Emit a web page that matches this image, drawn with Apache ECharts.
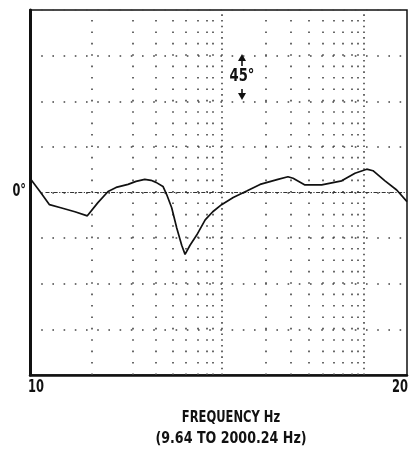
<!DOCTYPE html>
<html>
<head>
<meta charset="utf-8">
<script src="https://cdn.jsdelivr.net/npm/echarts@6/dist/echarts.min.js"></script>
<style>
  html, body { margin: 0; padding: 0; background: #fff; }
  #chart { width: 409px; height: 450px; }
</style>
</head>
<body>
<div id="chart"></div>
<script>
// Phase response, degrees vs frequency (log scale)
const freqHz = [9.64, 11.1, 12.7, 14.9, 18.2, 21.7, 25.2, 29.1, 32.6, 38.6,
  43.2, 48.9, 53.4, 57.4, 63.3, 66.7, 71.6, 76.9, 82.5, 86.5,
  92.8, 102, 115, 128, 145, 171, 207, 250, 322, 371,
  399, 472, 598, 689, 794, 958, 1131, 1236, 1465, 1729, 2000.24];
const phaseDeg = [14, 1, -12, -15, -19, -23, -10, 1, 5, 8,
  11, 13, 12, 10, 6, -2, -15, -35, -52, -61,
  -52, -42, -27, -19, -12, -5, 1.5, 8, 13, 15.5,
  14, 7.5, 7.5, 9.5, 11.5, 19, 23, 21.5, 11.5, 2.5, -9];

// Frequency range of the sweep
const freqMin = 9.64;
const freqMax = 2000.24;

// Vertical dotted grid columns (Hz); the heavy ones are denser dots
const gridCols = [23.2, 41.4, 57.4, 72.9, 87.7, 103.9, 118, 128.4,
  272, 387, 500, 609, 712, 809, 919, 1000];
const gridColsHeavy = [146, 1089];

// Phase scale
const phaseMin = -180, phaseMax = 180, phaseStep = 45;

// Text
const xEndLabels = ['10', '20'];
const zeroLabel = '0°';
const xTitle = 'FREQUENCY Hz';
const xRangeNote = '(9.64 TO 2000.24 Hz)';
const scaleNote = '45°';

const FONT = '"DejaVu Sans Condensed", "Liberation Sans Narrow", "Roboto", sans-serif';
const chart = echarts.init(document.getElementById('chart'), null, { renderer: 'canvas' });

const dotLine = { color: '#444', width: 1.6, type: [1.6, 9.8] };
const denseLine = { color: '#444', width: 1.6, type: [1.6, 4.1] };

const gridMarks = gridCols.map(f => ({ xAxis: f, lineStyle: dotLine }))
  .concat(gridColsHeavy.map(f => ({ xAxis: f, lineStyle: denseLine })));

// condensed bold label helper
function label(text, x, y, align, size, sx) {
  return {
    type: 'text', x: x, y: y, scaleX: sx,
    style: {
      text: text, font: 'bold ' + size + 'px ' + FONT, fill: '#111',
      align: align, verticalAlign: 'middle'
    }
  };
}

chart.setOption({
  animation: false,
  backgroundColor: '#fff',
  grid: {
    left: 30, right: 2, top: 10, bottom: 75,
    show: true, borderColor: '#111', borderWidth: 1.5, backgroundColor: 'transparent'
  },
  xAxis: {
    type: 'log', logBase: 10, min: freqMin, max: freqMax,
    axisLine: { show: true, onZero: false, lineStyle: { color: '#111', width: 2.5 } },
    axisTick: { show: false }, axisLabel: { show: false },
    splitLine: { show: false }, minorSplitLine: { show: false }
  },
  yAxis: {
    type: 'value', min: phaseMin, max: phaseMax, interval: phaseStep,
    axisLine: { show: true, lineStyle: { color: '#111', width: 3 } },
    axisTick: { show: false },
    axisLabel: { show: false },
    splitLine: { show: true, lineStyle: { color: '#444', width: 1.6, type: [1.6, 9.6] } }
  },
  series: [
    {
      type: 'line', data: [], silent: true,
      markLine: {
        silent: true, symbol: 'none', label: { show: false },
        data: gridMarks.concat([[
          { coord: [12, 0], lineStyle: { color: '#333', width: 1.1, type: [4, 1.5, 1.2, 1.5] } },
          { coord: [freqMax, 0] }
        ]])
      }
    },
    {
      type: 'line',
      data: freqHz.map((f, i) => [f, phaseDeg[i]]),
      showSymbol: false, symbol: 'none', smooth: false,
      lineStyle: { color: '#111', width: 1.7 },
      z: 5
    }
  ]
});

// place text once the axes are laid out
const zeroY = chart.convertToPixel({ yAxisIndex: 0 }, 0);
const leftX = chart.convertToPixel({ xAxisIndex: 0 }, freqMin);
const rightX = chart.convertToPixel({ xAxisIndex: 0 }, freqMax);

chart.setOption({
  graphic: [
    label(zeroLabel, leftX - 4, zeroY - 1, 'right', 17, 0.74),
    label(xEndLabels[0], leftX - 2, 388, 'left', 17, 0.75),
    label(xEndLabels[1], rightX + 1, 388, 'right', 17, 0.75),
    label(xTitle, 231, 418, 'center', 16, 0.8),
    label(xRangeNote, 231, 439, 'center', 16, 0.88),
    label(scaleNote, 242, 77, 'center', 17, 0.86),
    // scale arrows around the 45° note
    { type: 'line', shape: { x1: 242, y1: 59, x2: 242, y2: 66 }, style: { stroke: '#111', lineWidth: 1.6 } },
    { type: 'polygon', shape: { points: [[238, 61], [242, 54], [246, 61]] }, style: { fill: '#111' } },
    { type: 'line', shape: { x1: 242, y1: 89, x2: 242, y2: 95 }, style: { stroke: '#111', lineWidth: 1.6 } },
    { type: 'polygon', shape: { points: [[238, 93], [242, 100], [246, 93]] }, style: { fill: '#111' } }
  ]
});
</script>
</body>
</html>
